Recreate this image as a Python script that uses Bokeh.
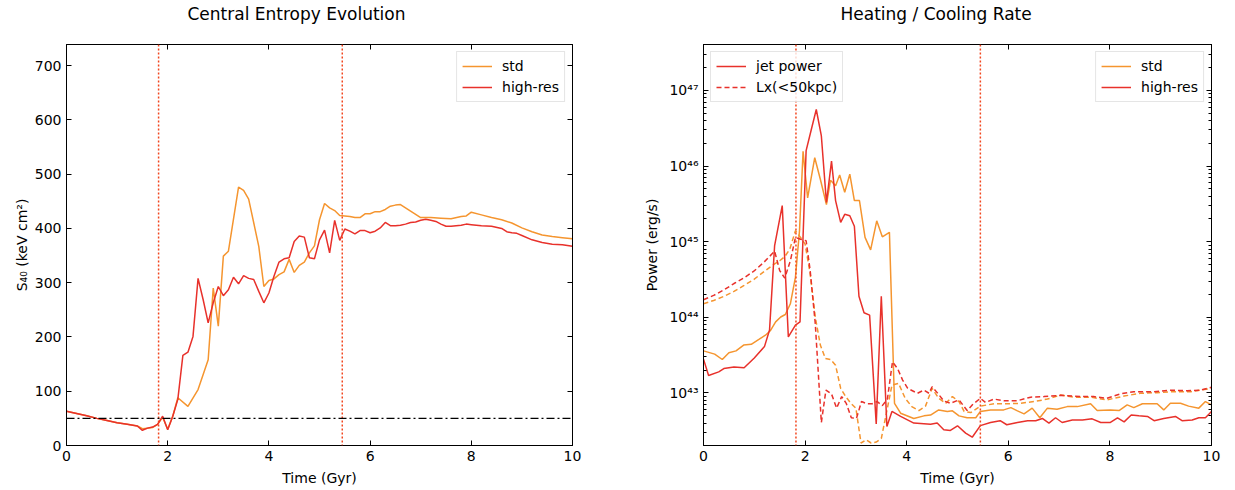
from bokeh.plotting import figure
from bokeh.models import (Range1d, LinearAxis, LogAxis, Legend, LegendItem, Span,
                          CustomJSTickFormatter, FixedTicker)
from bokeh.layouts import row
from bokeh.embed import file_html
from bokeh.resources import INLINE

# ---------------- data: left panel (central entropy, keV cm^2) ----------------
t_S_std = [0.0, 0.2, 0.4, 0.6, 0.8, 1.0, 1.2, 1.4, 1.5, 1.6, 1.7, 1.8, 1.9, 2.0, 2.1, 2.2,
           2.4, 2.6, 2.8, 2.9, 3.0, 3.1, 3.2, 3.4, 3.5, 3.6, 3.8, 3.9, 4.0,
           4.1, 4.2, 4.3, 4.4, 4.5, 4.6, 4.7, 4.8, 4.9, 5.0, 5.1, 5.2, 5.3, 5.4, 5.5, 5.6, 5.7, 5.8, 5.9,
           6.0, 6.1, 6.2, 6.3, 6.4, 6.5, 6.6, 6.8, 7.0, 7.2, 7.4, 7.6, 7.8, 7.9,
           8.0, 8.2, 8.4, 8.6, 8.8, 9.0, 9.2, 9.4, 9.6, 9.8, 10.0]
S_std = [63, 59, 55, 50, 46, 42, 39, 36, 31, 32, 33, 39, 52, 30, 54, 88,
         72, 103, 158, 290, 220, 349, 358, 476, 470, 454, 367, 293, 304,
         307, 315, 320, 343, 319, 332, 338, 355, 368, 416, 446, 438, 433, 424, 423, 422, 420, 420, 427,
         427, 431, 431, 435, 441, 443, 444, 432, 420, 420, 419, 418, 422, 423,
         430, 425, 420, 416, 410, 401, 394, 388, 385, 383, 381]

t_S_hr = [0.0, 0.2, 0.4, 0.6, 0.8, 1.0, 1.2, 1.4, 1.5, 1.6, 1.7, 1.8, 1.9, 2.0, 2.1, 2.2,
          2.3, 2.4, 2.5, 2.6, 2.7, 2.8, 2.9, 3.0, 3.1, 3.2, 3.3, 3.4, 3.5, 3.6, 3.7, 3.8, 3.9,
          4.0, 4.1, 4.2, 4.3, 4.4, 4.5, 4.6, 4.7, 4.8, 4.9, 5.0, 5.1, 5.2, 5.3, 5.4, 5.5,
          5.6, 5.7, 5.8, 5.9, 6.0, 6.1, 6.2, 6.3, 6.4, 6.5, 6.6, 6.7, 6.8, 6.9,
          7.0, 7.1, 7.2, 7.3, 7.4, 7.5, 7.6, 7.7, 7.8, 7.9,
          8.0, 8.2, 8.4, 8.6, 8.7, 8.8, 8.9, 9.0, 9.2, 9.4, 9.6, 9.8, 10.0]
S_hr = [63, 59, 55, 50, 46, 42, 39, 36, 28, 32, 34, 39, 54, 29, 54, 85,
        166, 172, 201, 308, 269, 226, 263, 293, 276, 287, 310, 298, 313, 308, 306, 284, 263,
        281, 312, 338, 344, 346, 376, 386, 384, 346, 344, 379, 397, 355, 415, 378, 399,
        395, 390, 396, 396, 392, 395, 401, 411, 405, 405, 406, 408, 411, 412,
        415, 417, 415, 413, 408, 404, 404, 405, 406, 408,
        407, 405, 404, 400, 394, 392, 391, 387, 379, 374, 371, 370, 367]

S_floor = 50            # horizontal dash-dot reference level
t_markers = [1.82, 5.45]  # vertical dotted markers (Gyr)

# ---------------- data: right panel (power, erg/s) ----------------
t_jet_std = [0.0, 0.22, 0.37, 0.5, 0.64, 0.79, 0.94, 1.09, 1.22, 1.32,
             1.42, 1.52, 1.61, 1.71, 1.81, 1.89, 1.96, 2.05, 2.19, 2.30,
             2.42, 2.50, 2.60, 2.68, 2.78, 2.88, 2.97, 3.07, 3.18, 3.29,
             3.41, 3.52, 3.66, 3.76, 3.88, 4.14, 4.34, 4.47, 4.63, 4.8,
             4.9, 5.03, 5.19, 5.36, 5.45, 5.65, 5.91, 6.05, 6.18, 6.31,
             6.47, 6.62, 6.77, 6.96, 7.16, 7.36, 7.62, 7.75, 8.01, 8.18,
             8.34, 8.47, 8.64, 8.93, 9.06, 9.19, 9.39, 9.55, 9.75, 9.88, 10.0]
P_jet_std = [3.6e43, 3.26e43, 2.77e43, 3.4e43, 3.6e43, 4.3e43, 4.4e43, 5.1e43, 5.8e43, 6.7e43,
             8.7e43, 1.01e44, 1.09e44, 1.51e44, 3.4e44, 1.4e45, 1.57e46, 3.8e45, 1.29e46, 6.7e45,
             3.1e45, 6.5e45, 5.5e45, 7.6e45, 4.5e45, 7.8e45, 3.5e45, 3.5e45, 1.14e45, 7.8e44,
             1.89e45, 1.16e45, 1.33e45, 7.3e42, 5.4e42, 4.6e42, 4.98e42, 5.1e42, 5.97e42, 5.7e42,
             5.8e42, 4.98e42, 4.7e42, 4.7e42, 5.7e42, 5.97e42, 5.97e42, 6.4e42, 5.8e42, 5.3e42,
             6.3e42, 4.7e42, 6.3e42, 6.1e42, 6.6e42, 6.6e42, 7.2e42, 5.86e42, 5.97e42, 5.86e42,
             6.95e42, 6.4e42, 7.2e42, 7.2e42, 5.97e42, 7.3e42, 7.3e42, 6.7e42, 6.3e42, 7.7e42, 6.95e42]

t_jet_hr = [0.0, 0.1, 0.3, 0.4, 0.6, 0.8, 1.0, 1.2, 1.3, 1.4,
            1.55, 1.67, 1.81, 1.9, 2.02, 2.12, 2.22, 2.32, 2.42, 2.52,
            2.6, 2.7, 2.78, 2.88, 2.97, 3.06, 3.16, 3.27, 3.4, 3.5,
            3.61, 3.71, 3.88, 4.14, 4.47, 4.6, 4.73, 4.86, 5.0, 5.16,
            5.29, 5.45, 5.65, 5.84, 5.97, 6.18, 6.38, 6.54, 6.67, 6.8,
            6.93, 7.06, 7.26, 7.46, 7.65, 7.82, 8.01, 8.15, 8.28, 8.42,
            8.57, 8.74, 8.87, 9.06, 9.29, 9.42, 9.62, 9.75, 9.88, 10.0]
P_jet_hr = [2.8e43, 1.7e43, 1.9e43, 2.1e43, 2.2e43, 2.15e43, 2.9e43, 4.1e43, 6.8e43, 8.9e44,
            3.0e45, 5.5e43, 7.9e43, 8.7e43, 1.6e46, 3.0e46, 5.6e46, 2.5e46, 3.3e45, 1.16e46,
            3.5e45, 1.8e45, 2.3e45, 2.2e45, 1.6e45, 1.9e44, 1.15e44, 1.07e44, 3.9e42, 1.9e44,
            3.6e42, 5.7e42, 4.9e42, 4.0e42, 3.87e42, 4.0e42, 3.26e42, 3.2e42, 3.68e42, 2.94e42,
            2.6e42, 3.7e42, 4.07e42, 4.3e42, 3.8e42, 4.07e42, 4.3e42, 4.3e42, 4.6e42, 4.0e42,
            4.7e42, 4.07e42, 4.4e42, 4.4e42, 4.55e42, 4.07e42, 4.07e42, 4.7e42, 4.15e42, 5.1e42,
            5.0e42, 4.9e42, 4.3e42, 4.6e42, 4.9e42, 4.3e42, 4.4e42, 4.7e42, 4.7e42, 5.7e42]

t_lx_std = [0.0, 0.2, 0.4, 0.6, 0.8, 1.0, 1.2, 1.4, 1.5, 1.6,
            1.7, 1.81, 1.91, 2.0, 2.1, 2.2, 2.3, 2.4, 2.5, 2.6,
            2.7, 2.8, 2.9, 3.0, 3.1, 3.2, 3.3, 3.4, 3.5, 3.6,
            3.71, 3.84, 3.97, 4.1, 4.24, 4.37, 4.5, 4.63, 4.77, 4.9,
            5.03, 5.13, 5.26, 5.45, 5.72, 5.97, 6.24, 6.51, 6.77, 7.03,
            7.29, 7.62, 7.94, 8.28, 8.6, 8.93, 9.26, 9.59, 10.0]
P_lx_std = [1.51e44, 1.67e44, 1.89e44, 2.2e44, 2.64e44, 3.2e44, 4.07e44, 5.1e44, 5.6e44, 6.35e44,
            8.0e44, 1.4e45, 1.14e45, 9.3e44, 3.76e44, 1.01e44, 4.3e43, 2.86e43, 2.77e43, 2.33e43,
            1.15e43, 8.95e42, 7.3e42, 6.3e42, 2.18e42, 2.4e42, 2.18e42, 2.24e42, 2.5e42, 5.4e42,
            1.27e43, 1.34e43, 8.5e42, 6.6e42, 5.86e42, 6.7e42, 1.15e43, 8.5e42, 7.3e42, 8.95e42,
            7.7e42, 5.7e42, 5.5e42, 6.7e42, 7.2e42, 7.2e42, 7.3e42, 7.7e42, 8.3e42, 9.4e42,
            8.8e42, 8.8e42, 8.1e42, 9.1e42, 9.9e42, 1.01e43, 1.04e43, 1.04e43, 1.15e43]

t_lx_hr = [0.0, 0.2, 0.4, 0.6, 0.79, 0.99, 1.19, 1.4, 1.5, 1.6,
           1.71, 1.81, 1.91, 2.02, 2.1, 2.2, 2.32, 2.41, 2.52, 2.62,
           2.72, 2.81, 2.91, 3.01, 3.11, 3.22, 3.32, 3.42, 3.52, 3.62,
           3.72, 3.82, 3.92, 4.02, 4.21, 4.34, 4.44, 4.5, 4.6, 4.73,
           4.86, 5.03, 5.19, 5.29, 5.45, 5.55, 5.72, 5.91, 6.18, 6.44,
           6.7, 7.03, 7.42, 7.68, 7.94, 8.2, 8.47, 8.87, 9.19, 9.52,
           9.78, 10.0]
P_lx_hr = [1.71e44, 1.95e44, 2.3e44, 2.8e44, 3.3e44, 4.07e44, 5.35e44, 7.5e44, 4.15e44, 3.3e44,
           5.6e44, 1.14e45, 1.08e45, 1.03e45, 4.15e44, 8.3e43, 4.07e42, 1.09e43, 9.7e42, 6.3e42,
           8.95e42, 7.3e42, 4.7e42, 4.6e42, 7.7e42, 7.2e42, 7.2e42, 7.7e42, 6.8e42, 8.3e42,
           2.58e43, 2.1e43, 1.48e43, 1.15e43, 9.9e42, 1.09e43, 9.9e42, 1.21e43, 1.01e43, 7.85e42,
           7.3e42, 8.1e42, 5.86e42, 6.95e42, 8.5e42, 7.5e42, 8.3e42, 7.9e42, 7.9e42, 8.8e42,
           8.95e42, 9.3e42, 8.95e42, 8.95e42, 8.5e42, 9.7e42, 1.04e43, 1.04e43, 1.09e43, 1.07e43,
           1.09e43, 1.19e43]

x_ticks = [0, 2, 4, 6, 8, 10]
S_ticks = [0, 100, 200, 300, 400, 500, 600, 700]
P_ticks = [1e43, 1e44, 1e45, 1e46, 1e47]

# ---------------- styling ----------------
FONT = "DejaVu Sans"
ORANGE = "#f5952f"
RED = "#e8312b"
VLINE = "#f2461f"
LW = 1.5

SUP = "const s={'0':'\u2070','1':'\u00b9','2':'\u00b2','3':'\u00b3','4':'\u2074','5':'\u2075','6':'\u2076','7':'\u2077','8':'\u2078','9':'\u2079','-':'\u207b'};"
log_fmt = CustomJSTickFormatter(code=SUP + """
const e = Math.round(Math.log10(tick));
return '10' + String(e).split('').map(c => s[c]).join('');
""")
blank_fmt = CustomJSTickFormatter(code="return '';")


def style_axis(ax, labels=True, minor=False):
    ax.major_tick_in = 5
    ax.major_tick_out = 0
    ax.minor_tick_in = 3 if minor else 0
    ax.minor_tick_out = 0
    ax.axis_line_color = "black"
    ax.major_tick_line_color = "black"
    ax.minor_tick_line_color = "black" if minor else None
    ax.major_label_text_font = FONT
    ax.major_label_text_font_size = "14px"
    ax.major_label_text_color = "black"
    ax.axis_label_text_font = FONT
    ax.axis_label_text_font_size = "14px"
    ax.axis_label_text_font_style = "normal"
    ax.axis_label_text_color = "black"
    ax.major_label_standoff = 5
    ax.axis_label_standoff = 6
    if not labels:
        ax.major_label_text_font_size = "0px"
        ax.major_label_standoff = 0
        ax.formatter = blank_fmt


def top_spacer_axis(ticks):
    # top spine ticks; a blank axis label reserves room between frame and title
    ax = LinearAxis(ticker=FixedTicker(ticks=ticks))
    style_axis(ax, labels=False)
    ax.axis_label = " "
    ax.axis_label_text_font_size = "12px"
    ax.axis_label_standoff = 3
    return ax


def base_fig(width, left, right, title, offset, y_range, log=False):
    p = figure(width=width, height=488, output_backend="svg", toolbar_location=None,
               x_range=Range1d(0, 10), y_range=y_range,
               y_axis_type="log" if log else "linear",
               min_border_left=left, min_border_right=right,
               min_border_top=44, min_border_bottom=42)
    p.grid.visible = False
    p.outline_line_color = "black"
    p.outline_line_width = 1
    p.title.text = title
    p.title.text_font = FONT
    p.title.text_font_size = "17px"
    p.title.text_font_style = "normal"
    p.title.text_color = "black"
    p.title.align = "left"
    p.title.offset = offset
    p.title.standoff = 2
    p.background_fill_color = "white"
    p.border_fill_color = "white"
    return p


def legend(items, loc):
    lg = Legend(items=items, location=loc)
    lg.label_text_font = FONT
    lg.label_text_font_size = "14px"
    lg.label_text_color = "black"
    lg.border_line_color = "#cccccc"
    lg.border_line_width = 1
    lg.background_fill_alpha = 0.8
    lg.glyph_width = 30
    lg.glyph_height = 16
    lg.label_standoff = 10
    lg.label_height = 18
    lg.spacing = 3
    lg.padding = 5
    lg.margin = 7
    return lg


# ---------------- left panel ----------------
p1 = base_fig(618, 66, 46, "Central Entropy Evolution", 121, Range1d(0, 739))
style_axis(p1.xaxis[0])
style_axis(p1.yaxis[0])
p1.yaxis[0].axis_label_standoff = 2
p1.xaxis[0].ticker = FixedTicker(ticks=x_ticks)
p1.yaxis[0].ticker = FixedTicker(ticks=S_ticks)
p1.xaxis[0].axis_label = "Time (Gyr)"
p1.yaxis[0].axis_label = "S\u2084\u2080 (keV cm\u00b2)"
right1 = LinearAxis(ticker=FixedTicker(ticks=S_ticks))
style_axis(right1, labels=False)
p1.add_layout(top_spacer_axis(x_ticks), "above")
p1.add_layout(right1, "right")

for tm in t_markers:
    p1.add_layout(Span(location=tm, dimension="height", line_color=VLINE,
                       line_dash="2 2", line_width=1.5))
p1.add_layout(Span(location=S_floor, dimension="width", line_color="black",
                   line_dash="8 3 2 3", line_width=1.2))

r_std = p1.line(t_S_std, S_std, line_color=ORANGE, line_width=LW)
r_hr = p1.line(t_S_hr, S_hr, line_color=RED, line_width=LW)
p1.add_layout(legend([LegendItem(label="std", renderers=[r_std]),
                      LegendItem(label="high-res", renderers=[r_hr])], "top_right"))

# ---------------- right panel ----------------
p2 = base_fig(609, 85, 16, "Heating / Cooling Rate", 137, Range1d(2.02e42, 4.05e47), log=True)
minor = [m * 10.0 ** e for e in range(42, 48) for m in range(2, 10)]
style_axis(p2.xaxis[0])
style_axis(p2.yaxis[0], minor=True)
p2.xaxis[0].ticker = FixedTicker(ticks=x_ticks)
p2.yaxis[0].ticker = FixedTicker(ticks=P_ticks, minor_ticks=minor)
p2.yaxis[0].formatter = log_fmt
p2.xaxis[0].axis_label = "Time (Gyr)"
p2.yaxis[0].axis_label = "Power (erg/s)"
right2 = LogAxis(ticker=FixedTicker(ticks=P_ticks, minor_ticks=minor))
style_axis(right2, labels=False, minor=True)
p2.add_layout(top_spacer_axis(x_ticks), "above")
p2.add_layout(right2, "right")

for tm in t_markers:
    p2.add_layout(Span(location=tm, dimension="height", line_color=VLINE,
                       line_dash="2 2", line_width=1.5))

j_std = p2.line(t_jet_std, P_jet_std, line_color=ORANGE, line_width=LW)
l_std = p2.line(t_lx_std, P_lx_std, line_color=ORANGE, line_width=LW, line_dash="5 3")
j_hr = p2.line(t_jet_hr, P_jet_hr, line_color=RED, line_width=LW)
l_hr = p2.line(t_lx_hr, P_lx_hr, line_color=RED, line_width=LW, line_dash="5 3")

p2.add_layout(legend([LegendItem(label="jet power", renderers=[j_hr]),
                      LegendItem(label="Lx(<50kpc)", renderers=[l_hr])], "top_left"))
p2.add_layout(legend([LegendItem(label="std", renderers=[j_std]),
                      LegendItem(label="high-res", renderers=[j_hr])], "top_right"))

layout = row(p1, p2)
open("out.html", "w").write(file_html(layout, INLINE))
